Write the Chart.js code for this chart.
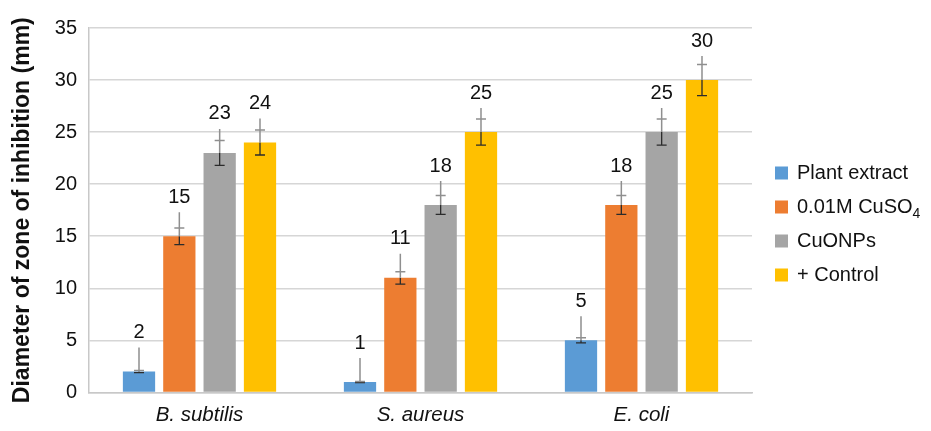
<!DOCTYPE html>
<html>
<head>
<title>Zone of inhibition</title>
<style>
  body { margin: 0; background: #fff; }
  #wrap { width: 931px; height: 431px; }
</style>
</head>
<body>
<div id="wrap"><canvas id="barChart" width="931" height="431"></canvas></div>
<script src="https://cdn.jsdelivr.net/npm/chart.js"></script>
<script>
// data
var organisms = ['B. subtilis', 'S. aureus', 'E. coli'];
var seriesNames = ['Plant extract', '0.01M CuSO₄', 'CuONPs', '+ Control'];
var plantExtract = [2, 1, 5];
var copperSulfate = [15, 11, 18];
var cuoNps = [23, 18, 25];
var positiveControl = [24, 25, 30];
// +/- error read from the whiskers
var errPlant = [0.1, 0.05, 0.25];
var errCuSO4 = [0.8, 0.6, 0.9];
var errCuONPs = [1.2, 0.9, 1.25];
var errControl = [1.2, 1.25, 1.5];
var yTicks = [0, 5, 10, 15, 20, 25, 30, 35];

var colours = ['#5b9bd5', '#ed7d31', '#a5a5a5', '#ffc000'];
var allValues = [plantExtract, copperSulfate, cuoNps, positiveControl];
var allErrors = [errPlant, errCuSO4, errCuONPs, errControl];
var fontName = '"Liberation Sans", Arial, Helvetica, sans-serif';

// error bars + value labels with the little leader line
var labelPlugin = {
  id: 'labelPlugin',
  afterDatasetsDraw: function(chart) {
    var ctx = chart.ctx;
    var y = chart.scales.y;
    ctx.save();
    chart.data.datasets.forEach(function(ds, i) {
      var meta = chart.getDatasetMeta(i);
      meta.data.forEach(function(bar, j) {
        var v = ds.data[j];
        var e = allErrors[i][j];
        var x = bar.x;
        var top = y.getPixelForValue(v);
        var hi = y.getPixelForValue(v + e);
        var lo = y.getPixelForValue(v - e);
        // lower half of whisker (dark)
        ctx.strokeStyle = '#2b2b2b';
        ctx.lineWidth = 1.3;
        ctx.beginPath();
        ctx.moveTo(x, top); ctx.lineTo(x, lo);
        ctx.moveTo(x - 5, lo); ctx.lineTo(x + 5, lo);
        ctx.stroke();
        // upper half + leader line (grey)
        var labelY = top - 39;
        ctx.strokeStyle = '#8f8f8f';
        ctx.lineWidth = 1.5;
        ctx.beginPath();
        ctx.moveTo(x, labelY + 15); ctx.lineTo(x, top);
        ctx.moveTo(x - 5, hi); ctx.lineTo(x + 5, hi);
        ctx.stroke();
        ctx.fillStyle = '#111';
        ctx.font = '20px ' + fontName;
        ctx.textAlign = 'center';
        ctx.textBaseline = 'middle';
        ctx.fillText(String(v), x, labelY);
      });
    });
    ctx.restore();
  }
};

// legend on the right, drawn by hand so the subscript 4 looks right
var legendPlugin = {
  id: 'legendPlugin',
  afterDraw: function(chart) {
    var ctx = chart.ctx;
    ctx.save();
    var lx = 775, ly = 173, step = 34;
    seriesNames.forEach(function(name, i) {
      var cy = ly + i * step;
      ctx.fillStyle = colours[i];
      ctx.fillRect(lx, cy - 6.5, 13, 13);
      ctx.fillStyle = '#111';
      ctx.font = '20px ' + fontName;
      ctx.textAlign = 'left';
      ctx.textBaseline = 'middle';
      var parts = name.split('₄');
      ctx.fillText(parts[0], lx + 22, cy);
      if (parts.length > 1) {
        var w = ctx.measureText(parts[0]).width;
        ctx.font = '14px ' + fontName;
        ctx.fillText('4', lx + 22 + w, cy + 7);
      }
    });
    ctx.restore();
  }
};

var datasets = [];
for (var i = 0; i < seriesNames.length; i++) {
  datasets.push({
    label: seriesNames[i],
    data: allValues[i],
    backgroundColor: colours[i],
    borderWidth: 0,
    categoryPercentage: 0.73,
    barPercentage: 0.8
  });
}

var chart = new Chart(document.getElementById('barChart'), {
  type: 'bar',
  data: { labels: organisms, datasets: datasets },
  options: {
    responsive: false,
    animation: false,
    layout: { padding: { left: 0, right: 179, top: 28, bottom: 0 } },
    plugins: {
      legend: { display: false },
      tooltip: { enabled: false }
    },
    scales: {
      x: {
        grid: { display: false },
        border: { color: '#c8c8c8', width: 1.5 },
        ticks: {
          color: '#111',
          padding: 3,
          font: { family: fontName, size: 20.5, style: 'italic' }
        }
      },
      y: {
        min: 0,
        max: 35,
        afterBuildTicks: function(scale) {
          scale.ticks = yTicks.map(function(t) { return { value: t }; });
        },
        afterFit: function(scale) { scale.width = 89; },
        grid: { color: '#d6d6d6', lineWidth: 1.5, drawTicks: false },
        border: { color: '#c8c8c8', width: 1.5 },
        ticks: {
          color: '#111',
          padding: 12,
          font: { family: fontName, size: 20 }
        },
        title: {
          display: true,
          text: 'Diameter of zone of inhibition (mm)',
          color: '#111',
          padding: { top: 9, bottom: 0 },
          font: { family: fontName, size: 23, weight: 'bold' }
        }
      }
    }
  },
  plugins: [labelPlugin, legendPlugin]
});
</script>
</body>
</html>
